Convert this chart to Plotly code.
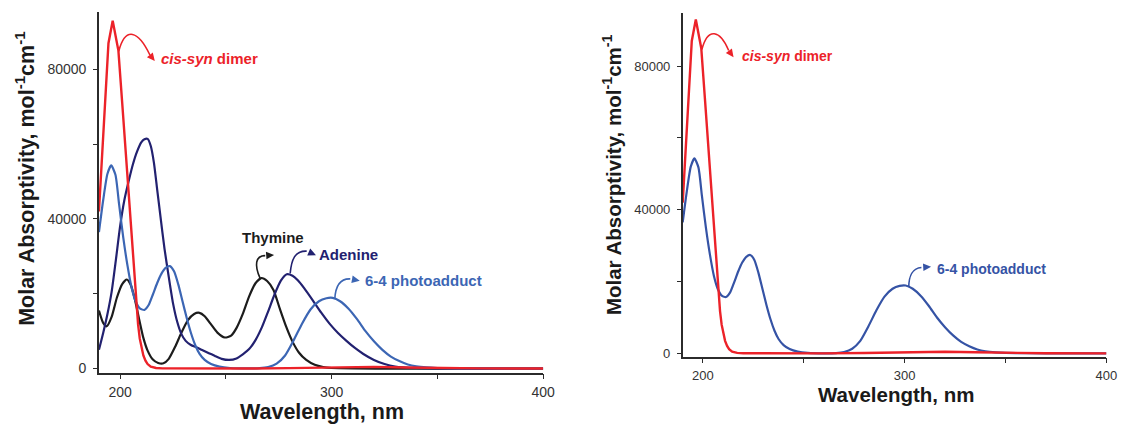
import math
import plotly.graph_objects as go

# ---------------- data ----------------
wl_dimer = [190, 192, 194.5, 196.5, 199.2, 201, 203, 205, 206.5, 207.8, 208.5, 209.3, 210, 211,
            212, 213, 214.5, 217, 220, 230, 260, 280, 295, 310, 320, 335, 350, 370, 400]
eps_dimer = [42000, 63000, 87000, 93000, 85000, 71000, 55500, 39600, 27000, 16400, 11800, 8000, 5700, 3500,
             2100, 1200, 500, 150, 50, 0, 0, 100, 300, 450, 450, 300, 150, 50, 0]

wl_64 = [190, 192, 194, 195.8, 197.8, 199.5, 201.5, 203.5, 205.5, 207.5, 209.5, 211.5, 213.5, 215.5,
         217.5, 219.5, 221.5, 223.5, 225.5, 227.5, 229.5, 231.5, 233.5, 235.5, 237.5, 240, 243, 247,
         252, 260, 266, 270, 274, 278, 282, 286, 290, 294, 297.5, 300.5, 304, 308, 312, 316, 320,
         324, 328, 332, 336, 340, 345, 350, 360, 380, 400]
eps_64 = [36500, 45000, 52000, 54300, 51800, 44000, 35000, 27500, 21500, 17800, 16000, 15700, 17000, 19800,
          22800, 25300, 26900, 27400, 26000, 22500, 18000, 13500, 9500, 6300, 4000, 2300, 1200, 500,
          150, 30, 100, 400, 1300, 3500, 7500, 12000, 15800, 18000, 18800, 18900, 18000, 16000, 13200, 10000, 7300,
          5000, 3200, 2000, 1100, 600, 300, 150, 50, 0, 0]

wl_thy = [190, 192, 193.7, 196, 198.5, 201, 203.2, 205, 207, 209, 211, 213, 215.5, 218, 220.5, 223, 226,
          229, 232, 235, 237.5, 240, 243, 246, 249.5, 252.5, 255, 258, 261, 264, 266.8, 269.5, 272.5,
          275.5, 278.5, 281.5, 284.5, 288, 292, 296, 300, 310, 330, 400]
eps_thy = [15500, 12200, 11300, 13800, 19000, 22600, 23800, 22400, 18500, 13200, 8200, 4800, 2400, 1500, 1400, 2600, 5800,
           9600, 12900, 14600, 14900, 14000, 11800, 9600, 8300, 8800, 10800, 14600, 19300, 22800, 24200, 23400, 21000,
           16000, 11200, 7200, 4300, 2300, 1000, 400, 150, 30, 0, 0]

wl_ade = [190, 192, 194, 196, 198, 200, 202, 204, 206, 208, 210, 211.5, 213, 214.5, 216, 217.5, 219, 221,
          223, 225, 227, 229, 231, 233.5, 236, 239, 242, 245, 248, 251.5, 255, 258, 261, 264, 267, 270,
          273, 276, 278.8, 281.5, 284, 287, 291, 295, 299, 303, 307, 311, 315, 320, 325, 330, 340, 350, 370, 400]
eps_ade = [5000, 9500, 14500, 20500, 29000, 38000, 45000, 50000, 54500, 58000, 60500, 61300, 61400, 59500, 55000, 48000, 41000, 32000,
           24500, 17500, 12500, 9200, 7400, 6300, 5700, 4900, 4100, 3300, 2600, 2300, 2700, 3800, 5200, 7600, 11000, 15300,
           19800, 23500, 25200, 24800, 23600, 21500, 18300, 15000, 12000, 9500, 7400, 5500, 3900, 2300, 1200, 550, 150, 50, 0, 0]

x_tickvals = [200, 300, 400]
x_ticktext = ["200", "300", "400"]
x_minor = [250, 350]
y_tickvals = [0, 40000, 80000]
y_ticktext = ["0", "40000", "80000"]
y_minor = [20000, 60000]

RED = "#ec2229"
NAVY = "#222170"
LBLUE = "#3c66b4"
RBLUE = "#3553a5"
BLACK = "#1c1c1c"
AXC = "#2b2b2b"
FONT = "Liberation Sans, Arial, sans-serif"

W, H = 1134, 431
X_RANGE = [190, 400]
L_XDOM = [100 / W, 549 / W]
L_YDOM = [1 - 376 / H, 1 - 12 / H]
L_YRANGE = [-1060, 95360]
R_XDOM = [690 / W, 1118.3 / W]
R_YDOM = [1 - 360 / H, 1 - 13.3 / H]
R_YRANGE = [-910, 94740]

fig = go.Figure()

# left panel
fig.add_trace(go.Scatter(x=wl_thy, y=eps_thy, mode="lines", line=dict(color=BLACK, width=2.2, shape="spline", smoothing=0.6),
                         xaxis="x", yaxis="y", showlegend=False))
fig.add_trace(go.Scatter(x=wl_ade, y=eps_ade, mode="lines", line=dict(color=NAVY, width=2.2, shape="spline", smoothing=0.6),
                         xaxis="x", yaxis="y", showlegend=False))
fig.add_trace(go.Scatter(x=wl_64, y=eps_64, mode="lines", line=dict(color=LBLUE, width=2.2, shape="spline", smoothing=0.6),
                         xaxis="x", yaxis="y", showlegend=False))
fig.add_trace(go.Scatter(x=wl_dimer, y=eps_dimer, mode="lines", line=dict(color=RED, width=2.4),
                         xaxis="x", yaxis="y", showlegend=False))
# right panel
fig.add_trace(go.Scatter(x=wl_64, y=eps_64, mode="lines", line=dict(color=RBLUE, width=2.2, shape="spline", smoothing=0.6),
                         xaxis="x2", yaxis="y2", showlegend=False))
fig.add_trace(go.Scatter(x=wl_dimer, y=eps_dimer, mode="lines", line=dict(color=RED, width=2.4),
                         xaxis="x2", yaxis="y2", showlegend=False))

def xax(domain, anchor, size):
    return dict(domain=domain, anchor=anchor, range=X_RANGE, showline=True, linecolor=AXC, linewidth=1.5,
                ticks="outside", ticklen=5, tickwidth=1.2, tickcolor=AXC, tickvals=x_tickvals, ticktext=x_ticktext,
                minor=dict(tickvals=x_minor, ticks="outside", ticklen=5, tickwidth=1.2, tickcolor=AXC, showgrid=False),
                tickfont=dict(family=FONT, size=size, color="#333333"), showgrid=False, zeroline=False,
                ticklabelstandoff=1)

def yax(domain, anchor, rng, size):
    return dict(domain=domain, anchor=anchor, range=rng, showline=True, linecolor=AXC, linewidth=1.5,
                ticks="outside", ticklen=4, tickwidth=1.2, tickcolor=AXC, tickvals=y_tickvals, ticktext=y_ticktext,
                minor=dict(tickvals=y_minor, ticks="outside", ticklen=4, tickwidth=1.2, tickcolor=AXC, showgrid=False),
                tickfont=dict(family=FONT, size=size, color="#333333"), showgrid=False, zeroline=False,
                ticklabelstandoff=4)

# data units per screen pixel, per panel (used only to shape the arrowheads)
SCALE = {
    "x": ((X_RANGE[1] - X_RANGE[0]) / ((L_XDOM[1] - L_XDOM[0]) * W),
          (L_YRANGE[1] - L_YRANGE[0]) / ((L_YDOM[1] - L_YDOM[0]) * H)),
    "x2": ((X_RANGE[1] - X_RANGE[0]) / ((R_XDOM[1] - R_XDOM[0]) * W),
           (R_YRANGE[1] - R_YRANGE[0]) / ((R_YDOM[1] - R_YDOM[0]) * H)),
}

shapes = []
annotations = []

def curved_arrow(xr, yr, path_pts, tip, color, head_len=8.0, head_hw=3.8):
    (x0, y0), (x1, y1), (x2, y2), (x3, y3) = path_pts
    shapes.append(dict(type="path", xref=xr, yref=yr,
                       path=f"M {x0},{y0} C {x1},{y1} {x2},{y2} {x3},{y3}",
                       line=dict(color=color, width=1.6)))
    sx, sy = SCALE[xr]
    dxp = (tip[0] - x3) / sx
    dyp = (tip[1] - y3) / sy
    L = math.hypot(dxp, dyp)
    ux, uy = dxp / L, dyp / L
    nx, ny = -uy, ux
    bx, by = -ux * head_len, -uy * head_len
    p1 = (tip[0] + (bx + nx * head_hw) * sx, tip[1] + (by + ny * head_hw) * sy)
    p2 = (tip[0] + (bx - nx * head_hw) * sx, tip[1] + (by - ny * head_hw) * sy)
    shapes.append(dict(type="path", xref=xr, yref=yr,
                       path=f"M {tip[0]},{tip[1]} L {p1[0]},{p1[1]} L {p2[0]},{p2[1]} Z",
                       fillcolor=color, line=dict(width=0)))

def label(xr, yr, x, y, text, color, size, anchor="left"):
    annotations.append(dict(x=x, y=y, xref=xr, yref=yr, text=text, showarrow=False, xanchor=anchor, yanchor="middle",
                            font=dict(family=FONT, size=size, color=color, weight="bold")))

# left panel labels
curved_arrow("x", "y", [(199.35, 84850), (202.5, 91500), (208.5, 90500), (214.1, 83840)], (216.4, 82200), RED)
label("x", "y", 218.3, 82830, "<i>cis-syn</i> dimer", RED, 15)
curved_arrow("x", "y", [(266.2, 24100), (263.4, 27550), (263.9, 30200), (268.6, 30200)], (272.8, 30380), BLACK)
label("x", "y", 272.5, 34970, "Thymine", BLACK, 15, "center")
curved_arrow("x", "y", [(280.4, 25430), (281.0, 29140), (282.6, 31520), (288.2, 31390)], (292.6, 30300), NAVY)
label("x", "y", 292.9, 30460, "Adenine", NAVY, 15)
curved_arrow("x", "y", [(301.5, 18620), (301.8, 21720), (303.7, 24110), (308.8, 23970)], (313.3, 23500), LBLUE)
label("x", "y", 314.7, 23500, "6-4 photoadduct", LBLUE, 15)

# right panel labels
curved_arrow("x2", "y2", [(199.5, 84620), (202.5, 91000), (208.5, 90000), (212.8, 84340)], (215.2, 82500), RED)
label("x2", "y2", 218.3, 82690, "<i>cis-syn</i> dimer", RED, 14)
curved_arrow("x2", "y2", [(302.0, 18400), (302.1, 21440), (303.4, 23650), (308.3, 23930)], (313.1, 24110), RBLUE)
label("x2", "y2", 315.1, 23450, "6-4 photoadduct", RBLUE, 14)

# axis titles
ytitle = "Molar Absorptivity, mol<sup>-1</sup>cm<sup>-1</sup>"
annotations.append(dict(x=25 / W, y=1 - 180.8 / H, xref="paper", yref="paper", text=ytitle, textangle=-90,
                        showarrow=False, xanchor="center", yanchor="middle",
                        font=dict(family=FONT, size=21.5, color="#1a1a1a", weight="bold")))
annotations.append(dict(x=618.7 / W, y=1 - 176.6 / H, xref="paper", yref="paper", text=ytitle, textangle=-90,
                        showarrow=False, xanchor="center", yanchor="middle",
                        font=dict(family=FONT, size=20.5, color="#1a1a1a", weight="bold")))
annotations.append(dict(x=325 / W, y=1 - 415.5 / H, xref="paper", yref="paper", text="Wavelength, nm",
                        showarrow=False, xanchor="center", yanchor="middle",
                        font=dict(family=FONT, size=21.5, color="#1a1a1a", weight="bold")))
annotations.append(dict(x=905.8 / W, y=1 - 398.5 / H, xref="paper", yref="paper", text="Wavelength, nm",
                        showarrow=False, xanchor="center", yanchor="middle",
                        font=dict(family=FONT, size=20.5, color="#1a1a1a", weight="bold")))

fig.update_layout(
    width=W, height=H, margin=dict(l=0, r=0, t=0, b=0),
    paper_bgcolor="white", plot_bgcolor="white",
    xaxis=xax(L_XDOM, "y", 14),
    yaxis=yax(L_YDOM, "x", L_YRANGE, 14),
    xaxis2=xax(R_XDOM, "y2", 13),
    yaxis2=yax(R_YDOM, "x2", R_YRANGE, 13),
    shapes=shapes, annotations=annotations, showlegend=False,
)

fig.write_html("out.html")
